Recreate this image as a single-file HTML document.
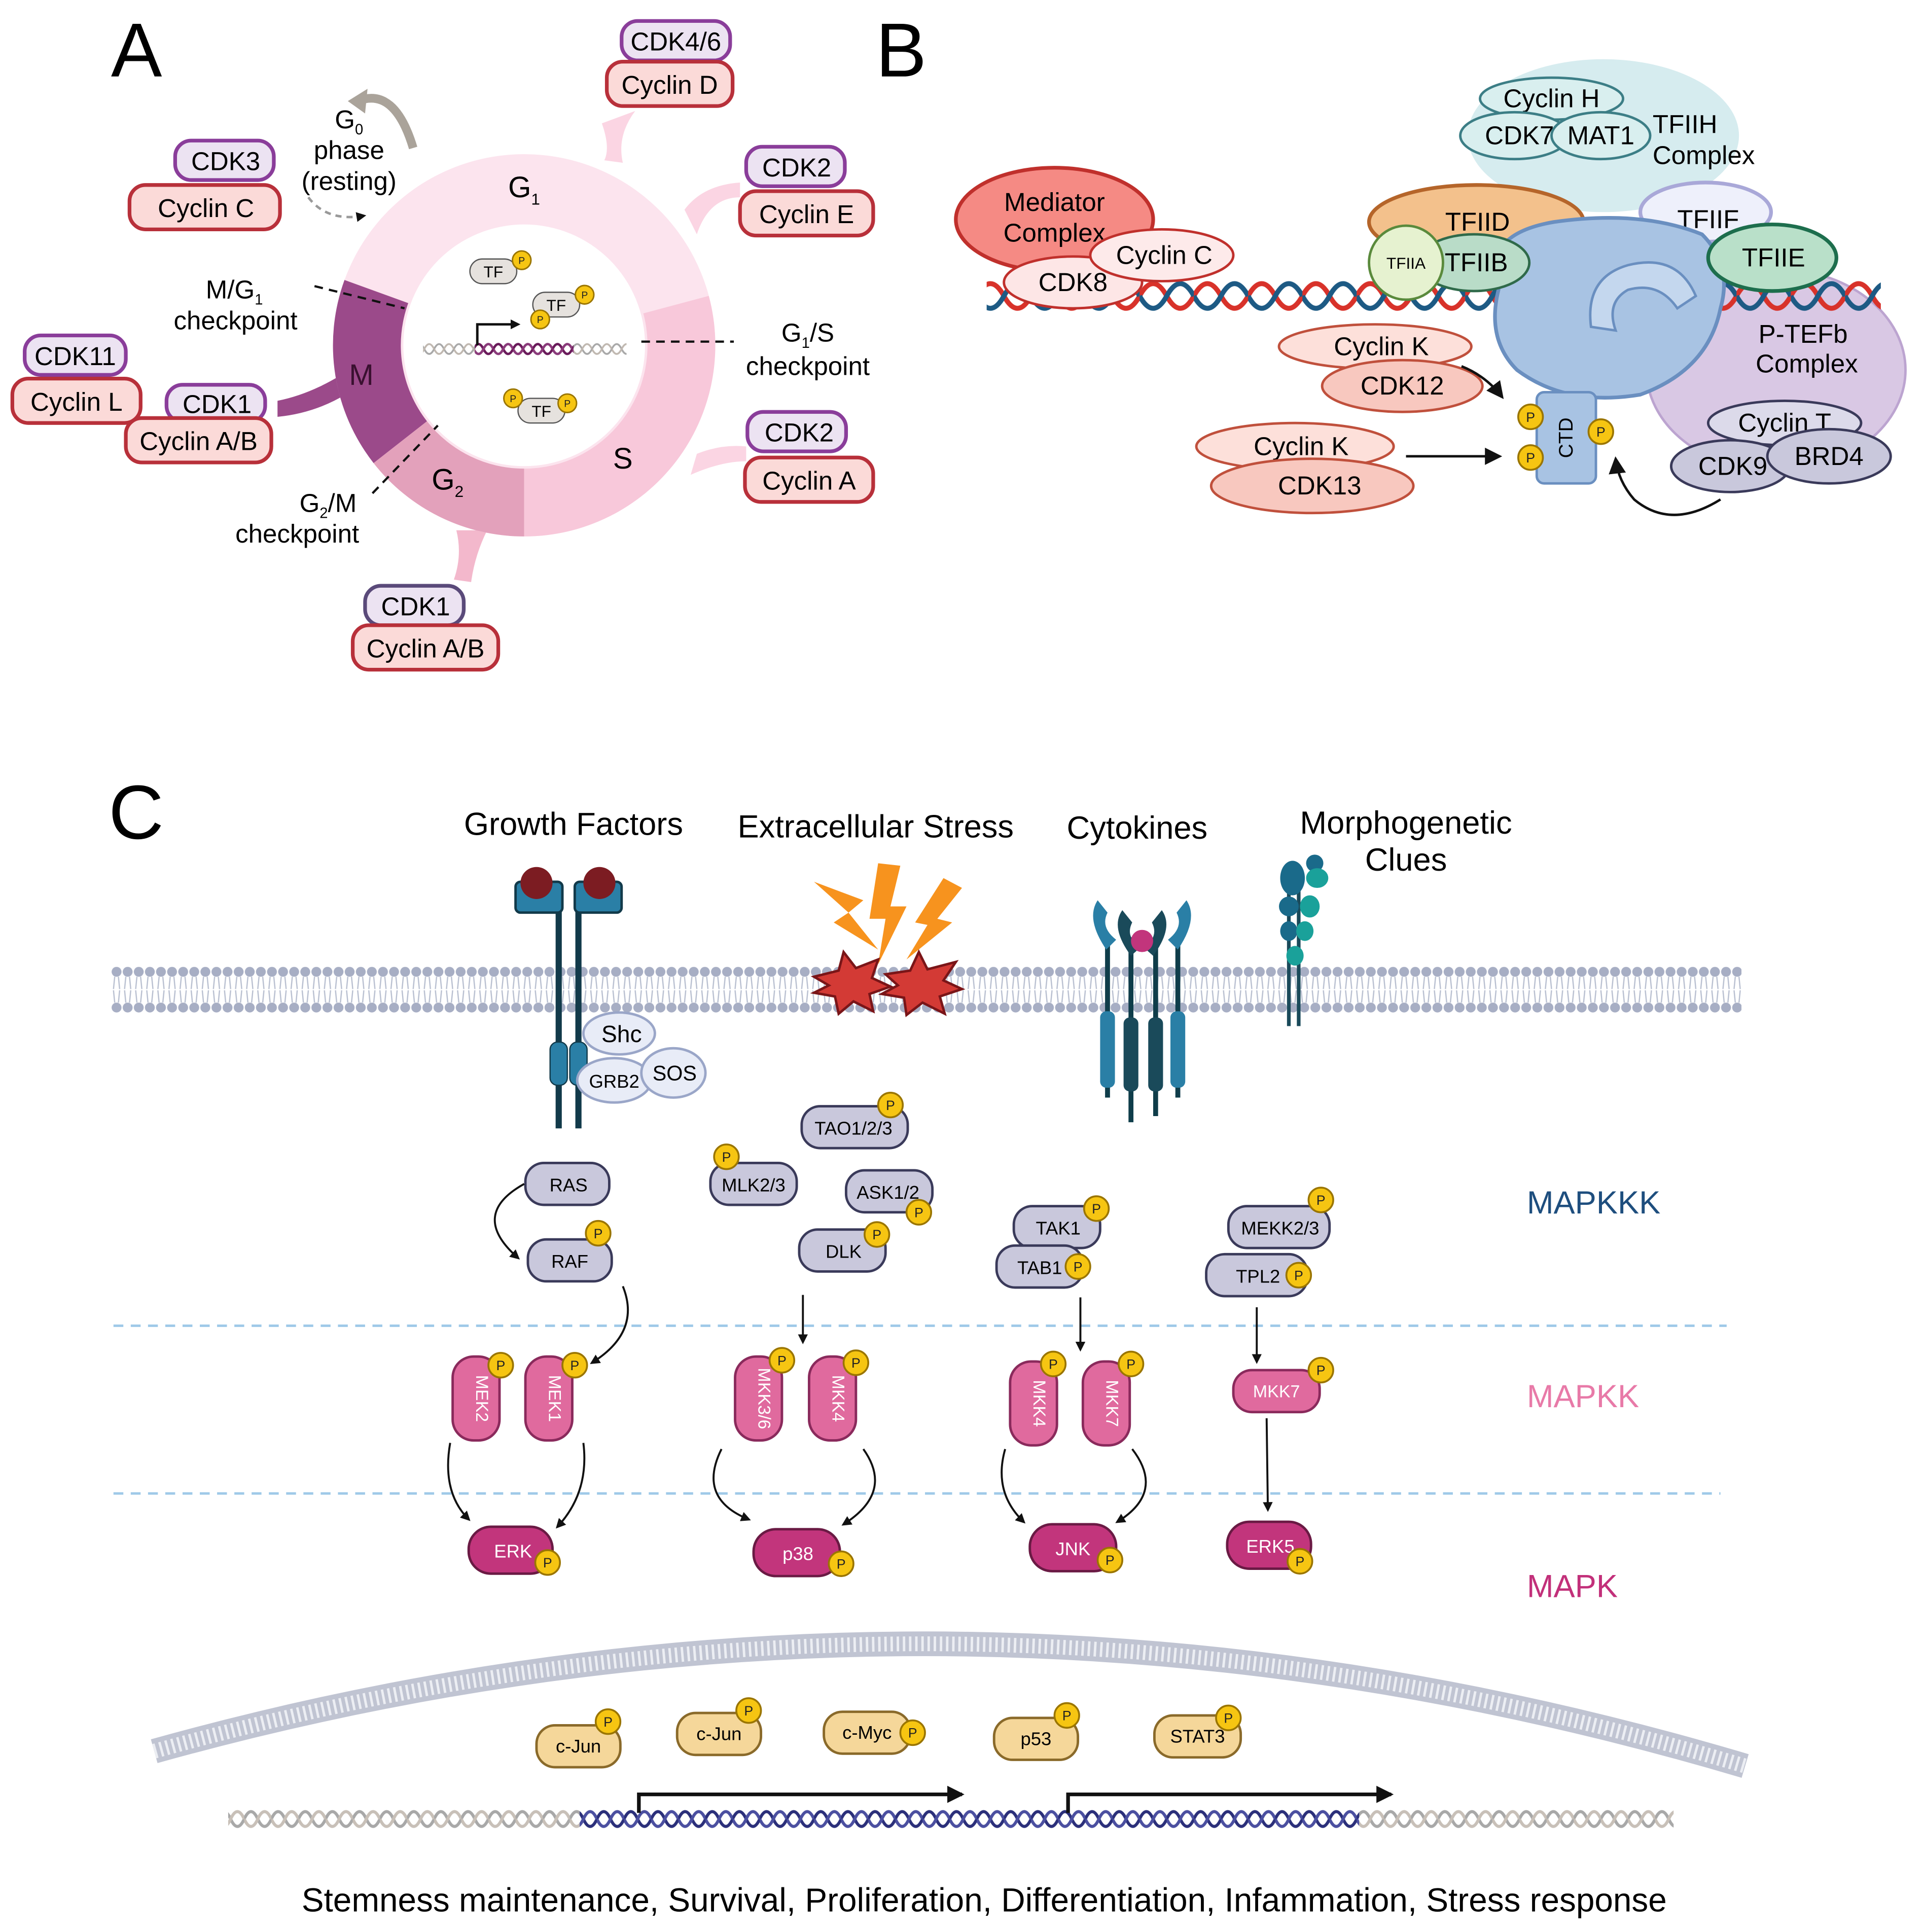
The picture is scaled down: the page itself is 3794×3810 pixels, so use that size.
<!DOCTYPE html>
<html><head><meta charset="utf-8"><style>
html,body{margin:0;padding:0;background:#fff}
svg{display:block}
text{font-family:"Liberation Sans",sans-serif}
</style></head><body>
<svg width="3794" height="3810" viewBox="0 0 1560 1566.6" xmlns="http://www.w3.org/2000/svg">
<defs>
<marker id="ah" markerWidth="8" markerHeight="8" refX="6" refY="4" orient="auto" markerUnits="userSpaceOnUse" viewBox="0 0 8 8"><path d="M0 0L8 4L0 8Z" fill="#111"/></marker>
<marker id="ahB" markerWidth="14" markerHeight="14" refX="12" refY="7" orient="auto" markerUnits="userSpaceOnUse"><path d="M0 0L14 7L0 14Z" fill="#111"/></marker>
<pattern id="helixB" width="44" height="30" patternUnits="userSpaceOnUse" x="0" y="225">
<path d="M0 15 Q11 -5 22 15 T44 15" fill="none" stroke="#d8322a" stroke-width="4"/>
<path d="M0 15 Q11 35 22 15 T44 15" fill="none" stroke="#1d5a84" stroke-width="4"/>
</pattern>
<pattern id="helixG" width="22" height="18" patternUnits="userSpaceOnUse" x="0" y="1466">
<path d="M0 9 Q5.5 -3 11 9 T22 9" fill="none" stroke="#a8a8a8" stroke-width="2.5"/>
<path d="M0 9 Q5.5 21 11 9 T22 9" fill="none" stroke="#c8c0b8" stroke-width="2.5"/>
</pattern>
<pattern id="helixN" width="22" height="18" patternUnits="userSpaceOnUse" x="0" y="1466">
<path d="M0 9 Q5.5 -3 11 9 T22 9" fill="none" stroke="#2b2f7a" stroke-width="2.5"/>
<path d="M0 9 Q5.5 21 11 9 T22 9" fill="none" stroke="#4b4fa0" stroke-width="2.5"/>
</pattern>
<pattern id="helixS" width="16" height="12" patternUnits="userSpaceOnUse" x="0" y="277">
<path d="M0 6 Q4 -2 8 6 T16 6" fill="none" stroke="#a8a8a8" stroke-width="1.5"/>
<path d="M0 6 Q4 14 8 6 T16 6" fill="none" stroke="#c0b8b0" stroke-width="1.5"/>
</pattern>
<pattern id="helixSP" width="16" height="12" patternUnits="userSpaceOnUse" x="0" y="277">
<path d="M0 6 Q4 -2 8 6 T16 6" fill="none" stroke="#6a1a5a" stroke-width="2"/>
<path d="M0 6 Q4 14 8 6 T16 6" fill="none" stroke="#8a3a7a" stroke-width="2"/>
</pattern>
<pattern id="mem" width="9" height="40" patternUnits="userSpaceOnUse" x="90" y="783">
<circle cx="4.5" cy="5" r="4" fill="#a7aec4"/>
<circle cx="4.5" cy="34" r="4" fill="#a7aec4"/>
<path d="M3 9 L2 19 M6 9 L7 19 M3 30 L2 20 M6 30 L7 20" stroke="#b8bfd0" stroke-width="1"/>
</pattern>
<g id="P"><circle r="10" fill="#f6c512" stroke="#9a7500" stroke-width="1.5"/><text y="4" text-anchor="middle" font-size="11" fill="#222">P</text></g>
<g id="Ps"><circle r="7.5" fill="#f6c512" stroke="#9a7500" stroke-width="1.2"/><text y="3" text-anchor="middle" font-size="8" fill="#222">P</text></g>
</defs>
<rect width="1560" height="1567" fill="#fff"/>

<!-- ================= PANEL A ================= -->
<text x="90" y="62" font-size="62">A</text>
<g fill="#fbd5e3">
<path d="M488 100 Q495 120 490 130 L505 132 Q500 110 515 90 Z"/>
<path d="M555 170 Q570 150 600 148 L600 160 Q575 160 565 190 Z"/>
<path d="M565 368 Q585 360 605 362 L605 374 Q585 374 560 385 Z" />
<path d="M370 430 Q375 450 368 470 L382 472 Q385 450 395 430 Z" fill="#f3b8cc"/>
<path d="M225 325 Q250 320 275 305 L280 320 Q255 335 225 338 Z" fill="#9b4a8a"/>
</g>
<circle cx="425" cy="280" r="155" fill="#fce4ee"/>
<path d="M279.3 227 A155 155 0 0 0 302.9 375.5 L346.2 341.6 A100 100 0 0 1 331 245.8 Z" fill="#9b4a8a"/>
<path d="M302.9 375.5 A155 155 0 0 0 425 435 L425 380 A100 100 0 0 1 346.2 341.6 Z" fill="#e3a1bb"/>
<path d="M425 435 A155 155 0 0 0 574.7 239.9 L521.6 254.1 A100 100 0 0 1 425 380 Z" fill="#f8c8da"/>
<circle cx="425" cy="280" r="98" fill="#fff"/>
<text x="412" y="160" font-size="24">G<tspan font-size="13" dy="6">1</tspan></text>
<text x="497" y="380" font-size="24">S</text>
<text x="350" y="397" font-size="24">G<tspan font-size="13" dy="6">2</tspan></text>
<text x="283" y="312" font-size="24" fill="#3a1030">M</text>
<rect x="343" y="277" width="165" height="12" fill="url(#helixS)"/>
<rect x="385" y="277" width="80" height="12" fill="url(#helixSP)"/>
<path d="M387 280 L387 263 L420 263" fill="none" stroke="#111" stroke-width="2" marker-end="url(#ah)"/>
<g font-size="13"><rect x="381" y="210" width="38" height="20" rx="10" fill="#e6e2de" stroke="#555"/><text x="400" y="225" text-anchor="middle">TF</text>
<rect x="432" y="237" width="38" height="20" rx="10" fill="#e6e2de" stroke="#555"/><text x="451" y="252" text-anchor="middle">TF</text>
<rect x="420" y="323" width="38" height="20" rx="10" fill="#e6e2de" stroke="#555"/><text x="439" y="338" text-anchor="middle">TF</text></g>
<use href="#Ps" x="423" y="211"/><use href="#Ps" x="474" y="239"/><use href="#Ps" x="438" y="259"/><use href="#Ps" x="416" y="323"/><use href="#Ps" x="460" y="327"/>
<path d="M290 82 Q320 70 335 120" fill="none" stroke="#aaa39a" stroke-width="7"/>
<path d="M282 82 L298 72 L296 92 Z" fill="#aaa39a"/>
<path d="M250 160 Q265 180 295 175" fill="none" stroke="#999" stroke-width="2" stroke-dasharray="5 4" marker-end="url(#ah)"/>
<g font-size="21" text-anchor="middle"><text x="283" y="104">G<tspan font-size="12" dy="5">0</tspan></text><text x="283" y="129">phase</text><text x="283" y="154">(resting)</text>
<text x="190" y="242">M/G<tspan font-size="12" dy="5">1</tspan></text><text x="191" y="267">checkpoint</text>
<text x="655" y="277">G<tspan font-size="12" dy="5">1</tspan><tspan dy="-5">/S</tspan></text><text x="655" y="304">checkpoint</text>
<text x="266" y="415">G<tspan font-size="12" dy="5">2</tspan><tspan dy="-5">/M</tspan></text><text x="241" y="440">checkpoint</text></g>
<g stroke="#111" stroke-width="1.8" stroke-dasharray="7 5"><line x1="255" y1="232" x2="328" y2="250"/><line x1="520" y1="277" x2="595" y2="277"/><line x1="302" y1="400" x2="355" y2="345"/></g>
<g font-size="21" text-anchor="middle">
<rect x="504" y="17" width="88" height="32" rx="13" fill="#ece3f2" stroke="#8a3d9a" stroke-width="3"/><text x="548" y="41">CDK4/6</text>
<rect x="492" y="50" width="102" height="36" rx="13" fill="#fbdad8" stroke="#b8303a" stroke-width="3"/><text x="543" y="76">Cyclin D</text>
<rect x="142" y="114" width="80" height="32" rx="13" fill="#ece3f2" stroke="#8a3d9a" stroke-width="3"/><text x="183" y="138">CDK3</text>
<rect x="105" y="150" width="122" height="36" rx="13" fill="#fbdad8" stroke="#b8303a" stroke-width="3"/><text x="167" y="176">Cyclin C</text>
<rect x="605" y="119" width="80" height="32" rx="13" fill="#ece3f2" stroke="#8a3d9a" stroke-width="3"/><text x="646" y="143">CDK2</text>
<rect x="600" y="155" width="108" height="36" rx="13" fill="#fbdad8" stroke="#b8303a" stroke-width="3"/><text x="654" y="181">Cyclin E</text>
<rect x="20" y="272" width="82" height="32" rx="13" fill="#ece3f2" stroke="#8a3d9a" stroke-width="3"/><text x="61" y="296">CDK11</text>
<rect x="10" y="307" width="104" height="36" rx="13" fill="#fbdad8" stroke="#b8303a" stroke-width="3"/><text x="62" y="333">Cyclin L</text>
<rect x="135" y="312" width="80" height="30" rx="13" fill="#ece3f2" stroke="#8a3d9a" stroke-width="3"/><text x="176" y="335">CDK1</text>
<rect x="102" y="339" width="118" height="36" rx="13" fill="#fbdad8" stroke="#b8303a" stroke-width="3"/><text x="161" y="365">Cyclin A/B</text>
<rect x="606" y="334" width="80" height="32" rx="13" fill="#ece3f2" stroke="#8a3d9a" stroke-width="3"/><text x="648" y="358">CDK2</text>
<rect x="604" y="371" width="104" height="36" rx="13" fill="#fbdad8" stroke="#b8303a" stroke-width="3"/><text x="656" y="397">Cyclin A</text>
<rect x="296" y="475" width="80" height="32" rx="13" fill="#ece3f2" stroke="#5a4a7a" stroke-width="3"/><text x="337" y="499">CDK1</text>
<rect x="286" y="507" width="118" height="36" rx="13" fill="#fbdad8" stroke="#b8303a" stroke-width="3"/><text x="345" y="533">Cyclin A/B</text>
</g>

<!-- ================= PANEL B ================= -->
<text x="710" y="62" font-size="62">B</text>
<ellipse cx="1300" cy="110" rx="110" ry="62" fill="#d6ecef"/>
<ellipse cx="1440" cy="300" rx="105" ry="82" fill="#d9c8e4" stroke="#bca4d0" stroke-width="2"/>
<rect x="800" y="225" width="725" height="30" fill="url(#helixB)"/>
<g font-size="21" text-anchor="middle">
<ellipse cx="1258" cy="80" rx="58" ry="17" fill="#d9efef" stroke="#3c7e86" stroke-width="2"/><text x="1258" y="87">Cyclin H</text>
<ellipse cx="1228" cy="110" rx="44" ry="19" fill="#d9efef" stroke="#3c7e86" stroke-width="2"/><text x="1232" y="117">CDK7</text>
<ellipse cx="1298" cy="110" rx="40" ry="19" fill="#d9efef" stroke="#3c7e86" stroke-width="2"/><text x="1298" y="117">MAT1</text>
<text x="1340" y="108" text-anchor="start">TFIIH</text><text x="1340" y="133" text-anchor="start">Complex</text>
<ellipse cx="855" cy="178" rx="80" ry="42" fill="#f58a84" stroke="#c0302c" stroke-width="3"/><text x="855" y="171">Mediator</text><text x="855" y="196">Complex</text>
<ellipse cx="870" cy="229" rx="56" ry="21" fill="#fde6e6" stroke="#c0302c" stroke-width="2"/><text x="870" y="236">CDK8</text>
<ellipse cx="942" cy="207" rx="58" ry="21" fill="#fdeaea" stroke="#c0302c" stroke-width="2"/><text x="944" y="214">Cyclin C</text>
<ellipse cx="1383" cy="172" rx="53" ry="24" fill="#eef0fb" stroke="#a9a8d8" stroke-width="3"/><text x="1385" y="185">TFIIF</text>
<ellipse cx="1197" cy="180" rx="87" ry="30" fill="#f3c18c" stroke="#b5652a" stroke-width="3"/><text x="1198" y="187">TFIID</text>
<!-- Pol II -->
<path d="M1215 235 Q1200 190 1260 180 Q1330 170 1380 190 Q1405 215 1395 250 Q1385 300 1330 320 Q1270 330 1230 300 Q1205 275 1215 235 Z" fill="#a8c3e3" stroke="#6a8fc0" stroke-width="3"/>
<path d="M1290 265 Q1285 225 1320 215 Q1360 205 1375 240 L1360 250 Q1345 228 1320 235 Q1302 245 1310 268 Z" fill="#c4d7ee" stroke="#6a8fc0" stroke-width="2"/>
<rect x="1246" y="318" width="48" height="74" rx="6" fill="#a8c3e3" stroke="#6a8fc0" stroke-width="2"/>
<text x="1275" y="355" font-size="16" transform="rotate(-90 1275 355)">CTD</text>
<ellipse cx="1195" cy="213" rx="45" ry="23" fill="#b9dcc8" stroke="#2f6a4a" stroke-width="2"/><text x="1197" y="220">TFIIB</text>
<circle cx="1140" cy="213" r="30" fill="#e6f2d0" stroke="#5a8a3c" stroke-width="2"/><text x="1140" y="218" font-size="13">TFIIA</text>
<ellipse cx="1437" cy="209" rx="52" ry="27" fill="#b9e0c9" stroke="#1d6e4d" stroke-width="3"/><text x="1438" y="216">TFIIE</text>
<text x="1462" y="278">P-TEFb</text><text x="1465" y="302">Complex</text>
<ellipse cx="1115" cy="281" rx="78" ry="18" fill="#fde0da" stroke="#c0503c" stroke-width="2"/><text x="1120" y="288">Cyclin K</text>
<ellipse cx="1137" cy="313" rx="65" ry="21" fill="#f8c8bf" stroke="#c0503c" stroke-width="2"/><text x="1137" y="320">CDK12</text>
<ellipse cx="1050" cy="362" rx="80" ry="19" fill="#fde0da" stroke="#c0503c" stroke-width="2"/><text x="1055" y="369">Cyclin K</text>
<ellipse cx="1064" cy="394" rx="82" ry="22" fill="#f8c8bf" stroke="#c0503c" stroke-width="2"/><text x="1070" y="401">CDK13</text>
<ellipse cx="1447" cy="343" rx="62" ry="18" fill="#dcdaea" stroke="#3a3a5a" stroke-width="2"/><text x="1447" y="350">Cyclin T</text>
<ellipse cx="1403" cy="378" rx="48" ry="21" fill="#c9c8dc" stroke="#3a3a5a" stroke-width="2"/><text x="1405" y="385">CDK9</text>
<ellipse cx="1483" cy="370" rx="50" ry="22" fill="#c9c8dc" stroke="#3a3a5a" stroke-width="2"/><text x="1483" y="377">BRD4</text>
</g>
<use href="#P" x="1241" y="338"/><use href="#P" x="1241" y="371"/><use href="#P" x="1298" y="350"/>
<path d="M1185 297 Q1205 305 1218 322" fill="none" stroke="#111" stroke-width="2" marker-end="url(#ahB)"/>
<path d="M1140 370 L1216 370" fill="none" stroke="#111" stroke-width="2" marker-end="url(#ahB)"/>
<path d="M1395 405 Q1355 430 1325 405 Q1312 390 1310 372" fill="none" stroke="#111" stroke-width="2" marker-end="url(#ahB)"/>

<!-- ================= PANEL C ================= -->
<text x="88" y="680" font-size="62">C</text>
<g font-size="26" text-anchor="middle"><text x="465" y="677">Growth Factors</text><text x="710" y="679">Extracellular Stress</text><text x="922" y="680">Cytokines</text><text x="1140" y="676">Morphogenetic</text><text x="1140" y="706">Clues</text></g>
<rect x="90" y="783" width="1322" height="40" fill="url(#mem)"/>
<g stroke="#123a4a" stroke-width="5"><line x1="453" y1="725" x2="453" y2="915"/><line x1="469" y1="725" x2="469" y2="915"/></g>
<rect x="418" y="715" width="38" height="25" rx="4" fill="#2a7fa6" stroke="#123a4a" stroke-width="2"/><rect x="466" y="715" width="38" height="25" rx="4" fill="#2a7fa6" stroke="#123a4a" stroke-width="2"/>
<circle cx="435" cy="716" r="13" fill="#7c1c22"/><circle cx="486" cy="716" r="13" fill="#7c1c22"/>
<rect x="446" y="845" width="14" height="35" rx="6" fill="#2a7fa6" stroke="#123a4a"/><rect x="462" y="845" width="14" height="35" rx="6" fill="#2a7fa6" stroke="#123a4a"/>
<g font-size="15" text-anchor="middle">
<ellipse cx="502" cy="838" rx="29" ry="17" fill="#e8ecf7" stroke="#9aa6c8" stroke-width="2"/><text x="504" y="845" font-size="19">Shc</text>
<ellipse cx="498" cy="876" rx="30" ry="18" fill="#e8ecf7" stroke="#9aa6c8" stroke-width="2"/><text x="498" y="882">GRB2</text>
<ellipse cx="546" cy="870" rx="26" ry="20" fill="#e8ecf7" stroke="#9aa6c8" stroke-width="2"/><text x="547" y="876" font-size="17">SOS</text></g>
<g fill="#f7931e"><path d="M660 715 L700 730 L688 740 L712 770 L676 748 L688 740 Z"/><path d="M712 700 L730 702 L722 735 L735 735 L712 782 L718 745 L705 745 Z"/><path d="M765 712 L780 720 L760 745 L772 748 L735 778 L752 750 L742 748 Z"/></g>
<path d="M660 792 L680 787 L684 772 L694 785 L712 778 L707 793 L722 800 L705 806 L708 820 L692 812 L680 822 L677 808 L660 805 L672 799 Z" fill="#d33a35" stroke="#7a1518" stroke-width="2"/>
<path d="M718 790 L738 787 L745 772 L752 786 L775 780 L765 795 L780 802 L762 808 L766 822 L748 813 L735 823 L733 809 L715 806 L728 799 Z" fill="#d33a35" stroke="#7a1518" stroke-width="2"/>
<g stroke="#0f3d4a" stroke-width="4" fill="none"><line x1="898" y1="760" x2="898" y2="890"/><line x1="917" y1="760" x2="917" y2="910"/><line x1="937" y1="760" x2="937" y2="905"/><line x1="955" y1="760" x2="955" y2="890"/></g>
<path d="M897 770 Q880 745 890 730 L898 740 Q892 752 905 762 Z" fill="#2a7fa6"/><path d="M955 770 Q972 745 962 730 L954 740 Q960 752 947 762 Z" fill="#2a7fa6"/>
<path d="M917 775 Q900 752 910 738 L918 748 Q912 760 925 768 Z" fill="#1a4a5a"/><path d="M935 775 Q952 752 942 738 L934 748 Q940 760 927 768 Z" fill="#1a4a5a"/>
<circle cx="926" cy="763" r="9" fill="#c2357c"/>
<rect x="892" y="820" width="12" height="62" rx="5" fill="#2a7fa6"/><rect x="911" y="825" width="12" height="60" rx="5" fill="#1a4a5a"/><rect x="931" y="825" width="12" height="60" rx="5" fill="#1a4a5a"/><rect x="949" y="820" width="12" height="62" rx="5" fill="#2a7fa6"/>
<g stroke="#1a4a5a" stroke-width="3"><line x1="1045" y1="720" x2="1045" y2="832"/><line x1="1053" y1="720" x2="1053" y2="832"/></g>
<ellipse cx="1048" cy="712" rx="10" ry="14" fill="#1a6a8a"/><circle cx="1066" cy="700" r="7" fill="#1a6a8a"/><ellipse cx="1068" cy="712" rx="9" ry="8" fill="#1aa19a"/>
<ellipse cx="1045" cy="735" rx="8" ry="8" fill="#1a6a8a"/><ellipse cx="1062" cy="735" rx="8" ry="9" fill="#1aa19a"/><ellipse cx="1045" cy="755" rx="7" ry="8" fill="#1a6a8a"/><ellipse cx="1058" cy="755" rx="7" ry="8" fill="#1aa19a"/><ellipse cx="1050" cy="775" rx="7" ry="8" fill="#1aa19a"/>
<g font-size="26"><text x="1238" y="984" fill="#1e4e7e">MAPKKK</text><text x="1238" y="1141" fill="#e87aa8">MAPKK</text><text x="1238" y="1295" fill="#c2307a">MAPK</text></g>
<g stroke="#9fc9e8" stroke-width="2" stroke-dasharray="8 6"><line x1="92" y1="1075" x2="1400" y2="1075"/><line x1="92" y1="1211" x2="1395" y2="1211"/></g>
<g font-size="15" text-anchor="middle" fill="#c9c8dc" stroke="#3a3a5a" stroke-width="2">
<rect x="426" y="943" width="68" height="34" rx="15"/><rect x="428" y="1005" width="68" height="34" rx="15"/>
<rect x="650" y="897" width="86" height="34" rx="15"/><rect x="576" y="943" width="70" height="34" rx="15"/><rect x="686" y="949" width="70" height="34" rx="15"/><rect x="648" y="997" width="70" height="34" rx="15"/>
<rect x="822" y="978" width="70" height="34" rx="15"/><rect x="808" y="1010" width="70" height="34" rx="15"/>
<rect x="996" y="978" width="82" height="34" rx="15"/><rect x="978" y="1017" width="82" height="34" rx="15"/>
</g>
<g font-size="15" text-anchor="middle">
<text x="461" y="966">RAS</text><text x="462" y="1028">RAF</text><text x="692" y="920">TAO1/2/3</text><text x="611" y="966">MLK2/3</text><text x="720" y="972">ASK1/2</text><text x="684" y="1020">DLK</text>
<text x="858" y="1001">TAK1</text><text x="843" y="1033">TAB1</text><text x="1038" y="1001">MEKK2/3</text><text x="1020" y="1040">TPL2</text></g>
<use href="#P" x="485" y="1000"/><use href="#P" x="722" y="896"/><use href="#P" x="589" y="938"/><use href="#P" x="745" y="983"/><use href="#P" x="711" y="1001"/><use href="#P" x="889" y="980"/><use href="#P" x="874" y="1027"/><use href="#P" x="1071" y="973"/><use href="#P" x="1053" y="1034"/>
<g fill="#e06a9e" stroke="#8a2a5c" stroke-width="2"><rect x="367" y="1100" width="38" height="68" rx="17"/><rect x="426" y="1100" width="38" height="68" rx="17"/><rect x="596" y="1100" width="38" height="68" rx="17"/><rect x="656" y="1100" width="38" height="68" rx="17"/><rect x="819" y="1104" width="38" height="68" rx="17"/><rect x="878" y="1104" width="38" height="68" rx="17"/><rect x="1000" y="1111" width="70" height="34" rx="15"/></g>
<g font-size="14" fill="#fff" text-anchor="middle">
<text transform="translate(391 1134) rotate(90)" y="5">MEK2</text><text transform="translate(450 1134) rotate(90)" y="5">MEK1</text><text transform="translate(620 1134) rotate(90)" y="5">MKK3/6</text><text transform="translate(680 1134) rotate(90)" y="5">MKK4</text><text transform="translate(843 1138) rotate(90)" y="5">MKK4</text><text transform="translate(902 1138) rotate(90)" y="5">MKK7</text><text x="1035" y="1133">MKK7</text></g>
<use href="#P" x="406" y="1107"/><use href="#P" x="466" y="1107"/><use href="#P" x="634" y="1103"/><use href="#P" x="694" y="1105"/><use href="#P" x="854" y="1106"/><use href="#P" x="917" y="1106"/><use href="#P" x="1071" y="1111"/>
<g fill="#c2357c" stroke="#6a1a44" stroke-width="2"><rect x="380" y="1238" width="68" height="38" rx="18"/><rect x="611" y="1240" width="70" height="38" rx="18"/><rect x="835" y="1236" width="70" height="38" rx="18"/><rect x="995" y="1234" width="68" height="38" rx="18"/></g>
<g font-size="15" fill="#fff" text-anchor="middle"><text x="416" y="1263">ERK</text><text x="647" y="1265">p38</text><text x="870" y="1261">JNK</text><text x="1030" y="1259">ERK5</text></g>
<use href="#P" x="444" y="1267"/><use href="#P" x="682" y="1268"/><use href="#P" x="900" y="1265"/><use href="#P" x="1054" y="1266"/>
<g fill="none" stroke="#111" stroke-width="1.6">
<path d="M425 960 Q380 985 420 1020" marker-end="url(#ah)"/>
<path d="M505 1043 Q520 1080 480 1105" marker-end="url(#ah)"/>
<path d="M651 1050 L651 1088" marker-end="url(#ah)"/><path d="M876 1052 L876 1094" marker-end="url(#ah)"/><path d="M1019 1060 L1019 1104" marker-end="url(#ah)"/>
<path d="M1027 1150 L1028 1224" marker-end="url(#ah)"/>
<path d="M365 1170 Q358 1210 380 1232" marker-end="url(#ah)"/><path d="M473 1170 Q478 1210 452 1238" marker-end="url(#ah)"/>
<path d="M585 1175 Q565 1215 607 1232" marker-end="url(#ah)"/><path d="M700 1175 Q725 1210 684 1236" marker-end="url(#ah)"/>
<path d="M815 1175 Q805 1210 830 1234" marker-end="url(#ah)"/><path d="M918 1175 Q945 1210 906 1234" marker-end="url(#ah)"/>
</g>
<path d="M125 1420 Q770 1240 1415 1432" fill="none" stroke="#c0c4d2" stroke-width="20"/>
<path d="M125 1420 Q770 1240 1415 1432" fill="none" stroke="#eceef3" stroke-width="12" stroke-dasharray="2 3"/>
<g fill="#f5d79a" stroke="#8a6a2a" stroke-width="2"><rect x="435" y="1399" width="68" height="34" rx="15"/><rect x="549" y="1389" width="68" height="34" rx="15"/><rect x="668" y="1388" width="70" height="34" rx="15"/><rect x="806" y="1393" width="68" height="34" rx="15"/><rect x="936" y="1391" width="70" height="34" rx="15"/></g>
<g font-size="15" text-anchor="middle"><text x="469" y="1421">c-Jun</text><text x="583" y="1411">c-Jun</text><text x="703" y="1410">c-Myc</text><text x="840" y="1415">p53</text><text x="971" y="1413">STAT3</text></g>
<use href="#P" x="493" y="1396"/><use href="#P" x="607" y="1387"/><use href="#P" x="740" y="1405"/><use href="#P" x="865" y="1391"/><use href="#P" x="996" y="1393"/>
<rect x="185" y="1466" width="1172" height="18" fill="url(#helixG)"/>
<rect x="470" y="1466" width="632" height="18" fill="#fff"/>
<rect x="470" y="1466" width="632" height="18" fill="url(#helixN)"/>
<g fill="none" stroke="#111" stroke-width="3"><path d="M518 1470 L518 1455 L780 1455" marker-end="url(#ahB)"/><path d="M866 1470 L866 1455 L1128 1455" marker-end="url(#ahB)"/></g>
<text x="798" y="1550" font-size="27" text-anchor="middle">Stemness maintenance, Survival, Proliferation, Differentiation, Infammation, Stress response</text>
</svg>
</body></html>
